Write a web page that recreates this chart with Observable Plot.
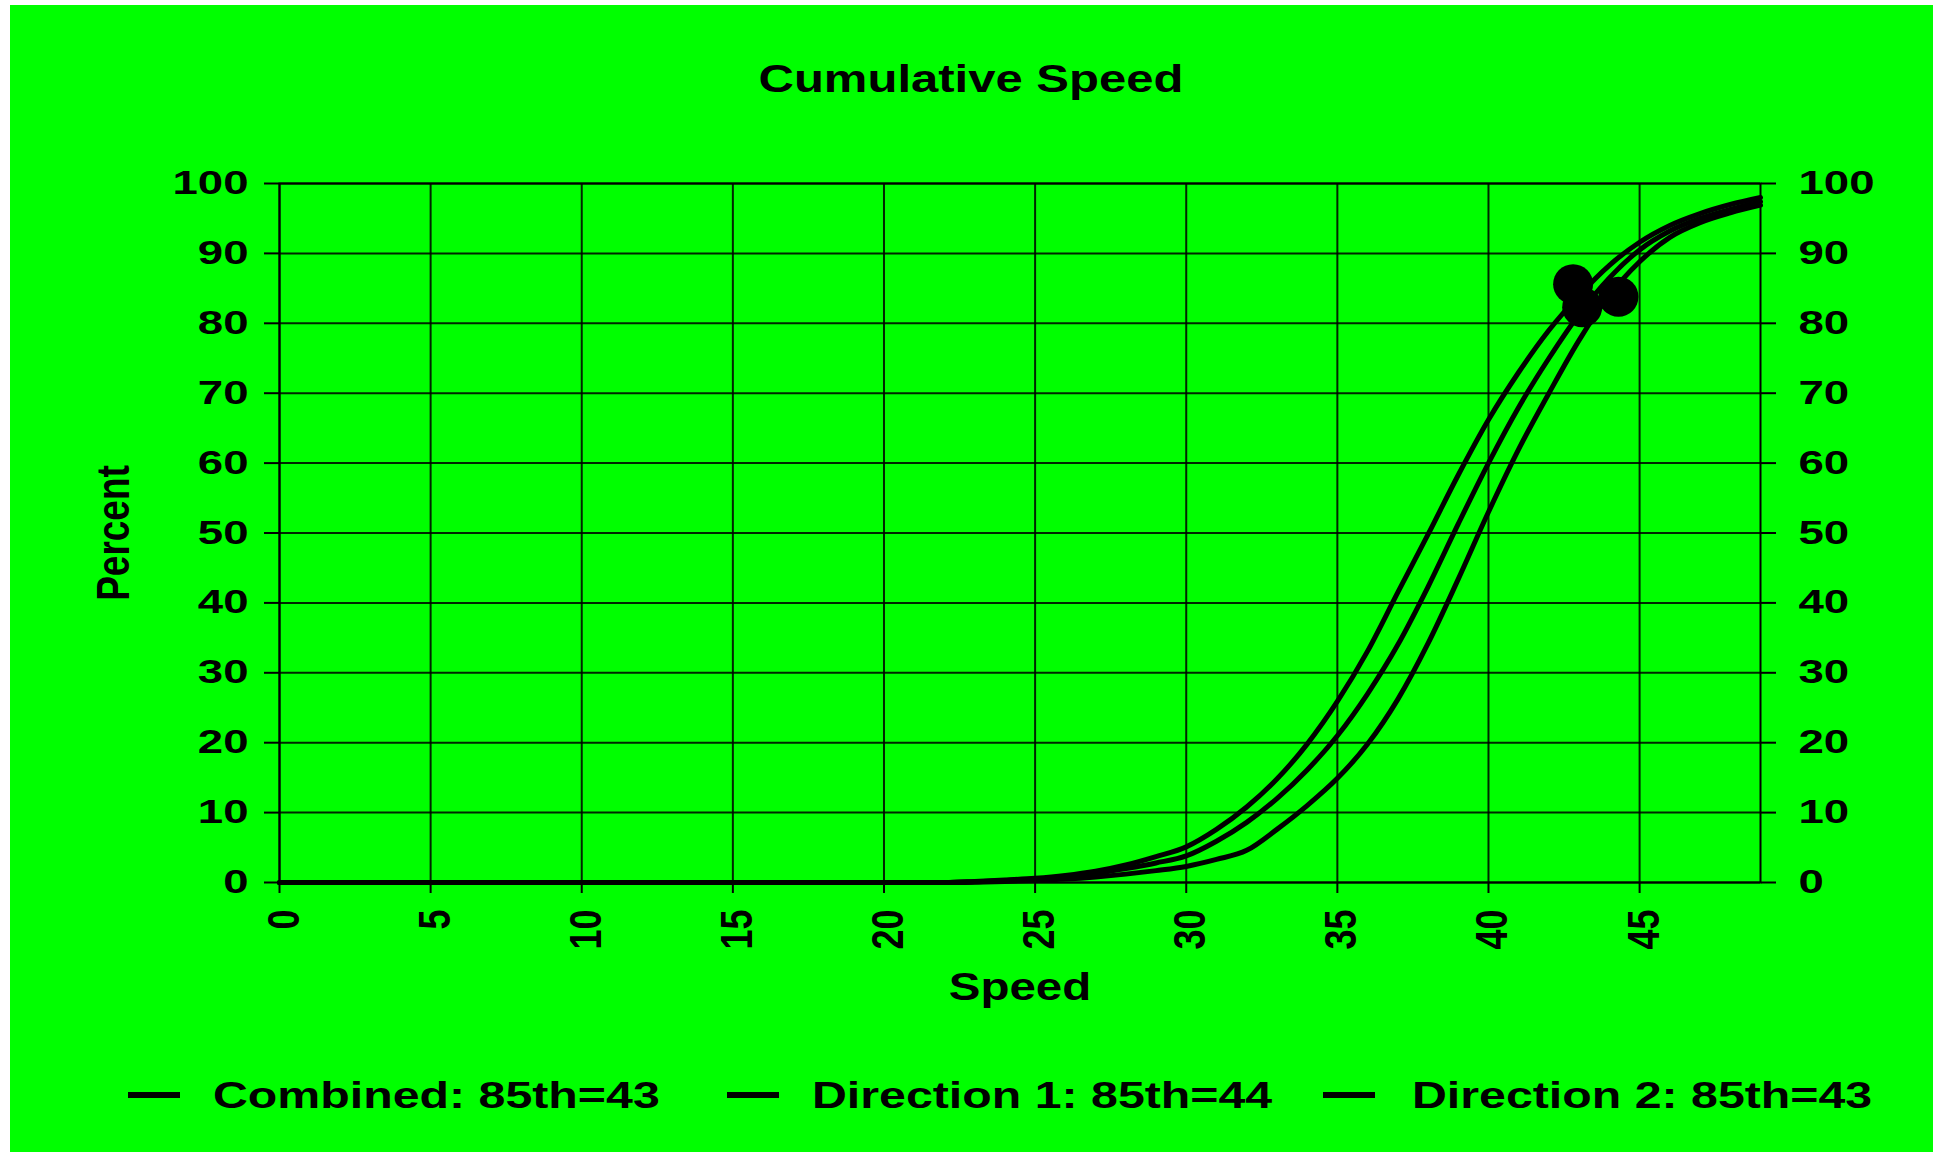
<!DOCTYPE html>
<html><head><meta charset="utf-8">
<script src="https://cdn.jsdelivr.net/npm/d3@7"></script>
<script src="https://cdn.jsdelivr.net/npm/@observablehq/plot@0.6"></script>
<style>
html,body{margin:0;padding:0;background:#fff;}
#page{position:relative;width:1942px;height:1156px;overflow:hidden;background:#fff;font-family:"Liberation Sans",Arial,sans-serif;font-weight:bold;}
#bg{position:absolute;left:10px;top:5px;width:1923px;height:1147px;background:#00ff00;}
#chart{position:absolute;left:0;top:0;}
.t{position:absolute;white-space:nowrap;color:#000;line-height:1;font-weight:bold;}
#title{left:971px;top:60px;font-size:38px;transform:translateX(-50%) scaleX(1.29);}
.lg{top:1077px;font-size:37px;transform-origin:0 50%;transform:scaleX(1.305);}
.sym{position:absolute;top:1092px;height:6px;width:52px;background:#000;}
</style>
</head><body>
<div id="page">
  <div id="bg"></div>
  <div id="chart"></div>
  <div class="t" id="title">Cumulative Speed</div>
  <div class="sym" style="left:128px"></div>
  <div class="t lg" style="left:213px">Combined: 85th=43</div>
  <div class="sym" style="left:727px"></div>
  <div class="t lg" style="left:812px">Direction 1: 85th=44</div>
  <div class="sym" style="left:1323px"></div>
  <div class="t lg" style="left:1412px">Direction 2: 85th=43</div>
</div>
<script>
// ---- data ----
const speeds = [0,1,2,3,4,5,6,7,8,9,10,11,12,13,14,15,16,17,18,19,20,21,22,23,24,25,26,27,28,29,30,31,32,33,34,35,36,37,38,39,40,41,42,43,44,45,46,47,48,49];
const combined = [0,0,0,0,0,0,0,0,0,0,0,0,0,0,0,0,0,0,0,0,0,0,0,0.1,0.3,0.5,0.8,1.3,2.0,2.8,3.8,5.9,8.6,12.0,16.1,21.0,27.0,34.0,42.3,51.3,60.0,68.0,75.0,81.3,86.5,90.5,93.2,95.0,96.3,97.4];
const direction1 = [0,0,0,0,0,0,0,0,0,0,0,0,0,0,0,0,0,0,0,0,0,0,0,0.05,0.15,0.3,0.5,0.8,1.2,1.7,2.3,3.3,4.6,7.6,11.0,14.9,19.8,26.2,34.2,43.4,53.0,62.0,70.0,77.6,84.0,88.8,92.3,94.4,95.8,96.9];
const direction2 = [0,0,0,0,0,0,0,0,0,0,0,0,0,0,0,0,0,0,0,0,0,0,0,0.15,0.35,0.6,1.0,1.6,2.5,3.7,5.1,7.6,10.8,14.8,19.8,25.9,33.1,41.5,49.8,58.3,66.2,73.0,79.0,84.0,88.3,91.6,94.0,95.7,97.0,98.0];
const seriesNames = ["Combined: 85th=43", "Direction 1: 85th=44", "Direction 2: 85th=43"];
// 85th-percentile markers (positions)
const markerSpeed = [43.1, 44.3, 42.8];
const markerPercent = [82.3, 83.8, 85.6];
const xTicks = [0,5,10,15,20,25,30,35,40,45];
const yTicks = [0,10,20,30,40,50,60,70,80,90,100];
const xTitle = "Speed";
const yTitle = "Percent";

const rows = [];
[combined, direction1, direction2].forEach((arr, i) => {
  speeds.forEach((s, j) => rows.push({series: seriesNames[i], speed: s, pct: arr[j]}));
});
const markers = markerSpeed.map((s, i) => ({series: seriesNames[i], speed: s, pct: markerPercent[i]}));

const W = 1942, H = 1156;
const chart = Plot.plot({
  width: W, height: H,
  marginLeft: 279, marginRight: 182, marginTop: 183, marginBottom: 274,
  style: {background: "none", color: "#000", fontFamily: "'Liberation Sans', Arial, sans-serif", fontWeight: "bold", overflow: "visible"},
  x: {domain: [0, 49]},
  y: {domain: [0, 100]},
  marks: [
    Plot.gridX(xTicks, {stroke: "#000", strokeOpacity: 0.85, strokeWidth: 2}),
    Plot.gridY(yTicks, {stroke: "#000", strokeOpacity: 0.85, strokeWidth: 2}),
    Plot.frame({stroke: "#000", strokeWidth: 2}),
    Plot.axisY({anchor: "left", ticks: yTicks, tickSize: 15, tickPadding: 16, fontSize: 33, label: null, strokeWidth: 2}),
    Plot.axisY({anchor: "right", ticks: yTicks, tickSize: 15, tickPadding: 23, fontSize: 33, label: null, strokeWidth: 2}),
    Plot.axisX({ticks: xTicks, tickSize: 11, tickFormat: () => "", label: null, strokeWidth: 2}),
    Plot.text(xTicks, {x: d => d, frameAnchor: "bottom", rotate: -90, textAnchor: "end", dx: 19, dy: 27, fontSize: 36, fontWeight: "bold", fill: "#000"}),
    Plot.text([xTitle], {frameAnchor: "bottom", textAnchor: "middle", dy: 117, fontSize: 38, fontWeight: "bold", fill: "#000"}),
    Plot.text([yTitle], {frameAnchor: "left", textAnchor: "middle", dx: -165, rotate: -90, fontSize: 37, fontWeight: "bold", fill: "#000"}),
    Plot.line(rows, {x: "speed", y: "pct", z: "series", stroke: "#000", strokeWidth: 5, curve: "monotone-x"}),
    Plot.dot(markers, {x: "speed", y: "pct", r: 20, fill: "#000", stroke: "none"})
  ]
});
document.getElementById("chart").appendChild(chart);

// horizontally stretch text the way the reference does
function stretchText(el, k) {
  const w = el.getComputedTextLength();
  el.setAttribute("textLength", (w * k).toFixed(1));
  el.setAttribute("lengthAdjust", "spacingAndGlyphs");
}
chart.querySelectorAll('g[aria-label="y-axis tick label"] text').forEach(el => stretchText(el, 1.38));
chart.querySelectorAll("text").forEach(el => {
  const s = el.textContent;
  if (s === xTitle) stretchText(el, 1.25);
  const tr = el.getAttribute("transform") || "";
  if (tr.includes("rotate(")) el.setAttribute("transform", tr.replace("rotate(", "scale(1.25,1) rotate("));
});
</script>
</body></html>
